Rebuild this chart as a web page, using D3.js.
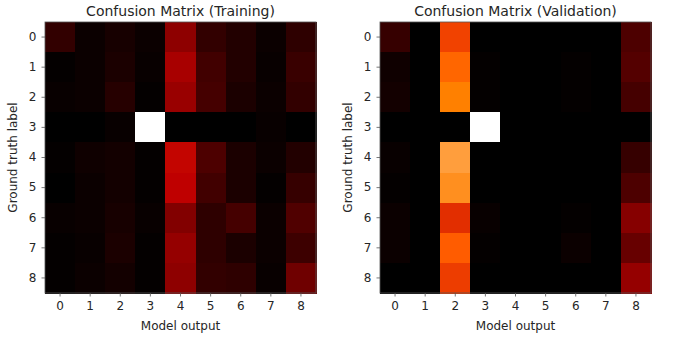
<!DOCTYPE html>
<html>
<head>
<meta charset="utf-8">
<script src="https://cdn.jsdelivr.net/npm/d3@7"></script>
<style>
  body { margin: 0; background: #fff; }
  text { font-family: "DejaVu Sans", sans-serif; fill: #262626; }
</style>
</head>
<body>
<svg></svg>
<script>
const labels = ["0", "1", "2", "3", "4", "5", "6", "7", "8"];

// row = ground truth, column = model output (row normalised)
const trainMatrix = [
  [0.13, 0.03, 0.06, 0.03, 0.37, 0.13, 0.09, 0.03, 0.12],
  [0.01, 0.03, 0.07, 0.02, 0.44, 0.17, 0.09, 0.02, 0.15],
  [0.02, 0.03, 0.10, 0.01, 0.40, 0.18, 0.07, 0.03, 0.13],
  [0.00, 0.00, 0.02, 1.00, 0.00, 0.00, 0.00, 0.02, 0.00],
  [0.01, 0.04, 0.05, 0.01, 0.51, 0.20, 0.07, 0.03, 0.09],
  [0.00, 0.03, 0.05, 0.01, 0.50, 0.17, 0.07, 0.01, 0.14],
  [0.02, 0.03, 0.06, 0.02, 0.34, 0.12, 0.18, 0.03, 0.21],
  [0.01, 0.02, 0.07, 0.01, 0.39, 0.12, 0.07, 0.03, 0.16],
  [0.01, 0.03, 0.05, 0.01, 0.37, 0.13, 0.12, 0.02, 0.29]
];

const validMatrix = [
  [0.14, 0.00, 0.63, 0.00, 0.00, 0.00, 0.00, 0.00, 0.20],
  [0.04, 0.00, 0.70, 0.01, 0.00, 0.00, 0.01, 0.00, 0.22],
  [0.05, 0.00, 0.75, 0.01, 0.00, 0.00, 0.01, 0.00, 0.18],
  [0.00, 0.00, 0.00, 1.00, 0.00, 0.00, 0.00, 0.00, 0.00],
  [0.02, 0.00, 0.81, 0.00, 0.00, 0.00, 0.00, 0.00, 0.14],
  [0.01, 0.00, 0.78, 0.00, 0.00, 0.00, 0.00, 0.00, 0.20],
  [0.03, 0.00, 0.59, 0.02, 0.00, 0.00, 0.01, 0.00, 0.35],
  [0.03, 0.00, 0.68, 0.01, 0.00, 0.00, 0.03, 0.00, 0.27],
  [0.00, 0.00, 0.62, 0.00, 0.00, 0.00, 0.00, 0.00, 0.39]
];

const width = 674, height = 340;

const svg = d3.select('svg')
    .attr('width', width)
    .attr('height', height);

// gist_heat colour map, one linear scale per channel
const red   = d3.scaleLinear().domain([0, 2 / 3]).range([0, 255]).clamp(true);
const green = d3.scaleLinear().domain([0.5, 1]).range([0, 255]).clamp(true);
const blue  = d3.scaleLinear().domain([0.75, 1]).range([0, 255]).clamp(true);
const heat = v => d3.rgb(red(v), green(v), blue(v)).toString();

function drawMatrix(matrix, title, left) {
  const size = 271, top = 22;

  const x = d3.scaleBand().domain(labels).range([left, left + size]);
  const y = d3.scaleBand().domain(labels).range([top, top + size]);

  const g = svg.append('g');

  matrix.forEach((row, i) => {
    g.selectAll(null)
      .data(row)
      .join('rect')
        .attr('x', (d, j) => x(labels[j]))
        .attr('y', y(labels[i]))
        .attr('width', x.bandwidth() + 0.5)
        .attr('height', y.bandwidth() + 0.5)
        .attr('fill', d => heat(d))
        .attr('shape-rendering', 'crispEdges');
  });

  g.append('rect')
      .attr('x', left)
      .attr('y', top)
      .attr('width', size)
      .attr('height', size)
      .attr('fill', 'none')
      .attr('stroke', '#555')
      .attr('stroke-width', 0.8);

  const xAxis = g.append('g')
      .attr('transform', `translate(0,${top + size})`)
      .call(d3.axisBottom(x).tickSize(3.5).tickPadding(5));
  const yAxis = g.append('g')
      .attr('transform', `translate(${left},0)`)
      .call(d3.axisLeft(y).tickSize(3.5).tickPadding(5));

  [xAxis, yAxis].forEach(a => {
    a.select('.domain').remove();
    a.selectAll('.tick line').attr('stroke', '#555').attr('stroke-width', 0.8);
    a.selectAll('.tick text')
        .attr('font-size', 12)
        .attr('font-family', '"DejaVu Sans", sans-serif')
        .attr('fill', '#262626');
  });

  g.append('text')
      .text(title)
      .attr('x', left + size / 2)
      .attr('y', 16)
      .attr('text-anchor', 'middle')
      .attr('font-size', 14);

  g.append('text')
      .text('Model output')
      .attr('x', left + size / 2)
      .attr('y', 330)
      .attr('text-anchor', 'middle')
      .attr('font-size', 12);

  g.append('text')
      .text('Ground truth label')
      .attr('transform', `translate(${left - 28},${top + size / 2}) rotate(-90)`)
      .attr('text-anchor', 'middle')
      .attr('font-size', 12);
}

drawMatrix(trainMatrix, 'Confusion Matrix (Training)', 45);
drawMatrix(validMatrix, 'Confusion Matrix (Validation)', 380);
</script>
</body>
</html>
